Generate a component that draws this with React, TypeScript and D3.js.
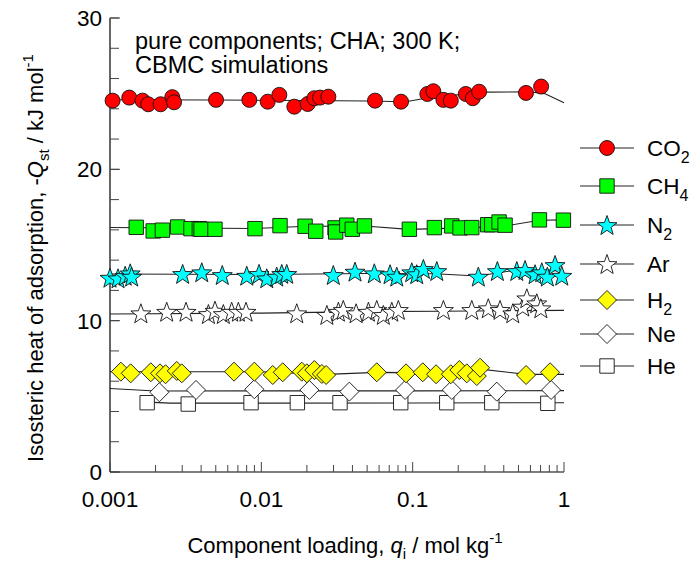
import { useEffect, useRef } from "react";
import * as d3 from "d3";

// loading q (mol/kg) and -Qst (kJ/mol)
const co2Q = [0.00104, 0.00134, 0.00164, 0.00179, 0.00216, 0.00258, 0.00265, 0.00502, 0.00833, 0.01102, 0.01315, 0.01652, 0.02026, 0.0224, 0.02443, 0.02773, 0.0564, 0.0838, 0.125, 0.137, 0.1596, 0.1786, 0.2244, 0.2496, 0.2748, 0.561, 0.706];
const co2H = [24.54, 24.74, 24.54, 24.3, 24.3, 24.77, 24.43, 24.59, 24.59, 24.47, 24.92, 24.14, 24.32, 24.7, 24.74, 24.8, 24.54, 24.47, 24.98, 25.16, 24.59, 24.54, 24.98, 24.7, 25.13, 25.05, 25.47];
const co2FitQ = [0.001, 0.005, 0.02, 0.05, 0.09, 0.13, 0.3, 0.6, 0.75, 1];
const co2FitH = [24.6, 24.58, 24.55, 24.52, 24.47, 24.75, 25.1, 25.12, 25.0, 24.4];

const ch4Q = [0.00149, 0.00193, 0.00222, 0.0028, 0.00343, 0.00389, 0.004, 0.00494, 0.00908, 0.01329, 0.01945, 0.02289, 0.0307, 0.031, 0.0367, 0.0399, 0.048, 0.0951, 0.1391, 0.1813, 0.2056, 0.2458, 0.3133, 0.3333, 0.3724, 0.408, 0.688, 0.991];
const ch4H = [16.17, 15.93, 15.98, 16.19, 16.08, 16.08, 16.04, 16.04, 16.08, 16.28, 16.24, 15.91, 16.13, 15.86, 16.31, 16.04, 16.26, 16.04, 16.15, 16.26, 16.13, 16.15, 16.34, 16.34, 16.52, 16.31, 16.66, 16.64];
const ch4FitQ = [0.001, 0.009, 0.02, 0.048, 0.095, 0.25, 0.41, 0.69, 1];
const ch4FitH = [16.16, 16.09, 16.24, 16.26, 16.03, 16.15, 16.26, 16.64, 16.66];

const n2Q = [0.001, 0.00113, 0.00126, 0.00136, 0.00139, 0.00302, 0.00404, 0.00552, 0.00801, 0.00966, 0.01086, 0.01264, 0.01364, 0.01472, 0.0299, 0.0416, 0.0558, 0.0709, 0.0785, 0.0986, 0.1064, 0.1177, 0.1443, 0.2716, 0.3628, 0.4876, 0.553, 0.644, 0.713, 0.776, 0.873, 0.967];
const n2H = [12.84, 12.8, 12.97, 13.13, 12.91, 13.09, 13.2, 13.02, 12.97, 13.09, 12.8, 12.91, 13.09, 13.09, 13.02, 13.24, 13.13, 13.07, 12.91, 13.2, 13.07, 13.42, 13.28, 12.91, 13.28, 13.28, 13.35, 13.07, 13.2, 12.91, 13.68, 12.97];
const n2FitQ = [0.001, 0.01, 0.05, 0.14, 0.27, 0.45, 1];
const n2FitH = [13.08, 13.05, 13.12, 13.1, 12.95, 13.3, 13.3];

const arQ = [0.0016, 0.00237, 0.00318, 0.00447, 0.00494, 0.00561, 0.00637, 0.00705, 0.00792, 0.01714, 0.0271, 0.0323, 0.0348, 0.0423, 0.051, 0.0579, 0.064, 0.0728, 0.0804, 0.1596, 0.2458, 0.316, 0.378, 0.4588, 0.534, 0.568, 0.661, 0.703];
const arH = [10.49, 10.59, 10.59, 10.44, 10.66, 10.44, 10.59, 10.59, 10.59, 10.49, 10.38, 10.59, 10.71, 10.49, 10.59, 10.71, 10.38, 10.59, 10.71, 10.71, 10.71, 10.82, 10.71, 10.49, 10.93, 11.48, 11.15, 10.82];
const arFitQ = [0.001, 0.01, 0.05, 0.15, 0.4, 1];
const arFitH = [10.44, 10.5, 10.6, 10.62, 10.66, 10.68];

const h2Q = [0.00118, 0.00137, 0.00186, 0.00214, 0.00233, 0.00276, 0.00298, 0.0066, 0.00899, 0.0119, 0.01385, 0.0185, 0.02, 0.0224, 0.0251, 0.0268, 0.0579, 0.0904, 0.1166, 0.1428, 0.1786, 0.2035, 0.2278, 0.2653, 0.2789, 0.5617, 0.809];
const h2H = [6.63, 6.52, 6.59, 6.52, 6.46, 6.68, 6.52, 6.63, 6.63, 6.41, 6.59, 6.63, 6.52, 6.74, 6.48, 6.41, 6.59, 6.52, 6.59, 6.46, 6.46, 6.74, 6.52, 6.34, 6.89, 6.41, 6.59];
const h2FitQ = [0.001, 0.01, 0.027, 0.058, 0.15, 0.28, 0.56, 1];
const h2FitH = [6.62, 6.62, 6.45, 6.58, 6.55, 6.8, 6.45, 6.45];

const neQ = [0.00212, 0.0037, 0.00899, 0.02077, 0.03815, 0.0891, 0.1813, 0.3596, 0.822];
const neH = [5.27, 5.42, 5.47, 5.42, 5.31, 5.42, 5.42, 5.31, 5.42];
const neFitQ = [0.001, 0.002, 0.01, 0.1, 1];
const neFitH = [5.52, 5.35, 5.36, 5.36, 5.38];

const heQ = [0.00176, 0.00329, 0.00855, 0.0173, 0.0331, 0.0834, 0.168, 0.3333, 0.782];
const heH = [4.58, 4.49, 4.58, 4.58, 4.58, 4.58, 4.58, 4.58, 4.54];
const heFitQ = [0.00176, 0.0025, 0.01, 0.1, 1];
const heFitH = [4.62, 4.55, 4.55, 4.56, 4.58];

const xTicks = [0.001, 0.01, 0.1, 1];
const xTickLabels = ["0.001", "0.01", "0.1", "1"];
const yTicks = [0, 10, 20, 30];

const series = [
  { name: "CO", sub: "2", q: co2Q, h: co2H, fq: co2FitQ, fh: co2FitH, shape: "circle", fill: "#ff0000", ly: 148 },
  { name: "CH", sub: "4", q: ch4Q, h: ch4H, fq: ch4FitQ, fh: ch4FitH, shape: "square", fill: "#00ff00", ly: 186 },
  { name: "N", sub: "2", q: n2Q, h: n2H, fq: n2FitQ, fh: n2FitH, shape: "star", fill: "#00ffff", ly: 225 },
  { name: "Ar", sub: "", q: arQ, h: arH, fq: arFitQ, fh: arFitH, shape: "star", fill: "#ffffff", ly: 264 },
  { name: "H", sub: "2", q: h2Q, h: h2H, fq: h2FitQ, fh: h2FitH, shape: "diamond", fill: "#ffff00", ly: 300 },
  { name: "Ne", sub: "", q: neQ, h: neH, fq: neFitQ, fh: neFitH, shape: "diamond", fill: "#ffffff", ly: 334 },
  { name: "He", sub: "", q: heQ, h: heH, fq: heFitQ, fh: heFitH, shape: "square", fill: "#ffffff", ly: 366 },
];

const FONT = "Liberation Sans, Arial, sans-serif";

function markerPath(shape) {
  if (shape === "circle") {
    const r = 7.5;
    return `M${-r},0A${r},${r} 0 1,0 ${r},0A${r},${r} 0 1,0 ${-r},0Z`;
  }
  if (shape === "square") {
    const s = 7.2;
    return `M${-s},${-s}H${s}V${s}H${-s}Z`;
  }
  if (shape === "diamond") {
    const s = 9.5;
    return `M0,${-s}L${s},0L0,${s}L${-s},0Z`;
  }
  const R = 10.5;
  const r = 4.3;
  const pts = d3.range(10).map((i) => {
    const a = (i * Math.PI) / 5 - Math.PI / 2;
    const rad = i % 2 === 0 ? R : r;
    return [rad * Math.cos(a), rad * Math.sin(a) + 1];
  });
  return "M" + pts.map((p) => p.join(",")).join("L") + "Z";
}

const App = () => {
  const svgRef = useRef(null);
  const width = 696;
  const height = 567;

  useEffect(() => {
    const svg = d3.select(svgRef.current);
    svg.selectAll("*").remove();

    const x = d3.scaleLog().domain([0.001, 1]).range([110, 564]);
    const y = d3.scaleLinear().domain([0, 30]).range([472, 18]);

    // axes
    svg.append("line").attr("x1", 110).attr("x2", 564).attr("y1", y(0)).attr("y2", y(0)).attr("stroke", "#000").attr("stroke-width", 1.2);
    svg.append("line").attr("x1", 110).attr("x2", 110).attr("y1", y(0)).attr("y2", y(30)).attr("stroke", "#000").attr("stroke-width", 1.2);

    const xMinor = [];
    xTicks.slice(0, -1).forEach((t) => {
      d3.range(2, 10).forEach((k) => xMinor.push(t * k));
    });
    svg.append("g").selectAll("line").data(xMinor).join("line")
      .attr("x1", (d) => x(d)).attr("x2", (d) => x(d))
      .attr("y1", y(0)).attr("y2", y(0) - 7)
      .attr("stroke", "#444");
    svg.append("g").selectAll("line").data(xTicks).join("line")
      .attr("x1", (d) => x(d)).attr("x2", (d) => x(d))
      .attr("y1", y(0)).attr("y2", y(0) - 10)
      .attr("stroke", "#444");

    const yMinor = d3.range(0, 31, 2);
    svg.append("g").selectAll("line").data(yMinor).join("line")
      .attr("x1", 110).attr("x2", 119)
      .attr("y1", (d) => y(d)).attr("y2", (d) => y(d))
      .attr("stroke", "#444");
    svg.append("g").selectAll("line").data(yTicks).join("line")
      .attr("x1", 110).attr("x2", 120)
      .attr("y1", (d) => y(d)).attr("y2", (d) => y(d))
      .attr("stroke", "#444");

    svg.append("g").selectAll("text").data(xTicks).join("text")
      .attr("x", (d) => x(d)).attr("y", 507)
      .attr("text-anchor", "middle")
      .attr("font-family", FONT).attr("font-size", 22.5)
      .text((d, i) => xTickLabels[i]);

    svg.append("g").selectAll("text").data(yTicks).join("text")
      .attr("x", 102).attr("y", (d) => y(d) + 8)
      .attr("text-anchor", "end")
      .attr("font-family", FONT).attr("font-size", 22.5)
      .text((d) => d);

    // fit lines and points
    const line = d3.line().x((d) => x(d[0])).y((d) => y(d[1]));
    series.slice().reverse().forEach((s) => {
      svg.append("path")
        .attr("d", line(s.fq.map((q, i) => [q, s.fh[i]])))
        .attr("fill", "none").attr("stroke", "#222").attr("stroke-width", 1.1);
    });
    series.slice().reverse().forEach((s) => {
      const path = markerPath(s.shape);
      svg.append("g").selectAll("path").data(s.q).join("path")
        .attr("d", path)
        .attr("transform", (d, i) => `translate(${x(d)},${y(s.h[i])})`)
        .attr("fill", s.fill).attr("stroke", "#111").attr("stroke-width", 0.9);
    });

    // legend
    series.forEach((s) => {
      svg.append("line").attr("x1", 580).attr("x2", 634).attr("y1", s.ly).attr("y2", s.ly)
        .attr("stroke", "#222").attr("stroke-width", 1.1);
      svg.append("path").attr("d", markerPath(s.shape))
        .attr("transform", `translate(607,${s.ly})`)
        .attr("fill", s.fill).attr("stroke", "#111").attr("stroke-width", 0.9);
      const t = svg.append("text").attr("x", 647).attr("y", s.ly + 8)
        .attr("font-family", FONT).attr("font-size", 22.5);
      t.append("tspan").text(s.name);
      if (s.sub) t.append("tspan").attr("dy", 7).attr("font-size", 16).text(s.sub);
    });

    // annotation
    svg.append("text").attr("x", 135).attr("y", 49)
      .attr("font-family", FONT).attr("font-size", 23.5)
      .text("pure components; CHA; 300 K;");
    svg.append("text").attr("x", 135).attr("y", 73)
      .attr("font-family", FONT).attr("font-size", 23.5)
      .text("CBMC simulations");

    // axis titles
    const xl = svg.append("text").attr("x", 345).attr("y", 553)
      .attr("text-anchor", "middle").attr("font-family", FONT).attr("font-size", 22);
    xl.append("tspan").text("Component loading, ");
    xl.append("tspan").attr("font-style", "italic").text("q");
    xl.append("tspan").attr("dy", 6).attr("font-size", 15).text("i");
    xl.append("tspan").attr("dy", -6).text(" / mol kg");
    xl.append("tspan").attr("dy", -10).attr("font-size", 15).text("-1");

    const yl = svg.append("text")
      .attr("transform", "translate(43,258) rotate(-90)")
      .attr("text-anchor", "middle").attr("font-family", FONT).attr("font-size", 22);
    yl.append("tspan").text("Isosteric heat of adsorption, -");
    yl.append("tspan").attr("font-style", "italic").text("Q");
    yl.append("tspan").attr("dy", 6).attr("font-size", 15).text("st");
    yl.append("tspan").attr("dy", -6).text(" / kJ mol");
    yl.append("tspan").attr("dy", -10).attr("font-size", 15).text("-1");
  }, []);

  return (
    <svg
      ref={svgRef}
      width={width}
      height={height}
      style={{ position: "absolute", left: 0, top: 0, background: "#fff" }}
    />
  );
};

export default App;
